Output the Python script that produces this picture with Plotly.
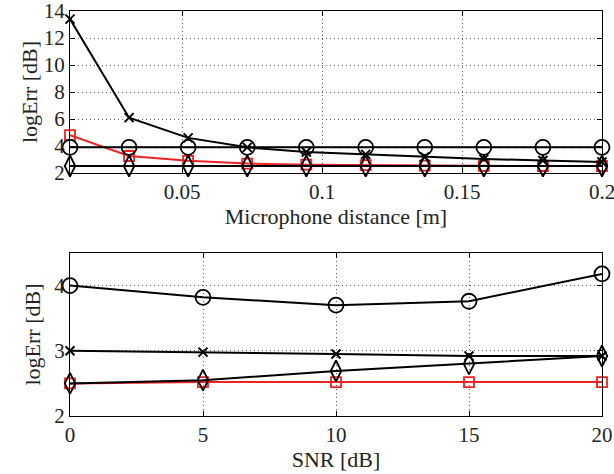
import numpy as np
import plotly.graph_objects as go

# Top panel data
mic_dist = [0.01, 0.0311, 0.0522, 0.0733, 0.0944, 0.1156, 0.1367, 0.1578, 0.1789, 0.2]
top_cross = [13.4, 6.1, 4.6, 3.9, 3.55, 3.38, 3.19, 3.04, 2.92, 2.82]
top_circle = [3.9, 3.9, 3.9, 3.9, 3.9, 3.9, 3.9, 3.9, 3.9, 3.9]
top_square = [4.8, 3.26, 2.9, 2.7, 2.62, 2.58, 2.55, 2.53, 2.52, 2.52]
top_diamond = [2.52, 2.52, 2.52, 2.52, 2.52, 2.52, 2.52, 2.52, 2.52, 2.52]

# Bottom panel data
snr = [0, 5, 10, 15, 20]
bot_circle = [4.0, 3.82, 3.70, 3.76, 4.18]
bot_cross = [3.0, 2.98, 2.95, 2.92, 2.92]
bot_diamond = [2.5, 2.55, 2.69, 2.8, 2.92]
bot_square = [2.5, 2.52, 2.52, 2.52, 2.52]

top_xticks = [0.05, 0.1, 0.15, 0.2]
top_yticks = [2, 4, 6, 8, 10, 12, 14]
bot_xticks = [0, 5, 10, 15, 20]
bot_yticks = [2, 3, 4]

FONT = "Liberation Serif"
BLACK = "#000000"
RED = "#ee2222"

fig = go.Figure()

def add_series(x, y, symbol, color, size, xa, ya, mlw=1.8):
    fig.add_trace(go.Scatter(
        x=x, y=y, mode="lines+markers", xaxis=xa, yaxis=ya,
        line=dict(color=color, width=2),
        marker=dict(symbol=symbol, size=size, color=color,
                    line=dict(color=color, width=mlw)),
        showlegend=False, cliponaxis=False, hoverinfo="skip"))

add_series(mic_dist, top_square, "square-open", RED, 10, "x", "y")
add_series(mic_dist, top_cross, "x-thin-open", BLACK, 9, "x", "y", 2)
add_series(mic_dist, top_circle, "circle-open", BLACK, 15, "x", "y")
add_series(mic_dist, top_diamond, "diamond-tall-open", BLACK, 15, "x", "y")

add_series(snr, bot_square, "square-open", RED, 10, "x2", "y2")
add_series(snr, bot_cross, "x-thin-open", BLACK, 9, "x2", "y2", 2)
add_series(snr, bot_circle, "circle-open", BLACK, 15, "x2", "y2")
add_series(snr, bot_diamond, "diamond-tall-open", BLACK, 15, "x2", "y2")

axis_common = dict(
    showline=True, linecolor=BLACK, linewidth=1, mirror="ticks",
    ticks="inside", ticklen=5, tickcolor=BLACK,
    showgrid=True, gridcolor="#555555", griddash="1px,3px", gridwidth=1,
    zeroline=False, tickfont=dict(family=FONT, size=21, color="#222222"),
    automargin=False, ticklabeloverflow="allow",
)
title_font = dict(family=FONT, size=22, color="#222222")

fig.update_layout(
    width=614, height=474,
    margin=dict(l=70, r=12, t=11, b=58),
    paper_bgcolor="white", plot_bgcolor="white",
    xaxis=dict(axis_common, domain=[0, 1], range=[0.01, 0.2], tickvals=top_xticks,
               ticktext=["0.05", "0.1", "0.15", "0.2"], anchor="y",
               title=dict(text="Microphone distance [m]", font=title_font, standoff=0)),
    yaxis=dict(axis_common, domain=[0.6, 1], range=[2, 14], tickvals=top_yticks,
               anchor="x", ticklabelstandoff=0,
               title=dict(text="logErr [dB]", font=title_font, standoff=0)),
    xaxis2=dict(axis_common, domain=[0, 1], range=[0, 20], tickvals=bot_xticks, anchor="y2",
                title=dict(text="SNR [dB]", font=title_font, standoff=0)),
    yaxis2=dict(axis_common, domain=[0, 0.4025], range=[2, 4.5], tickvals=bot_yticks,
                anchor="x2", ticklabelstandoff=0),
    annotations=[dict(text="logErr [dB]", font=title_font, textangle=-90,
                      xref="paper", yref="y2 domain", x=-0.0714, y=0.5,
                      xanchor="center", yanchor="middle", showarrow=False)],
)

fig.write_html("out.html", post_script="document.body.style.margin='0';",
               config={"displayModeBar": False})
